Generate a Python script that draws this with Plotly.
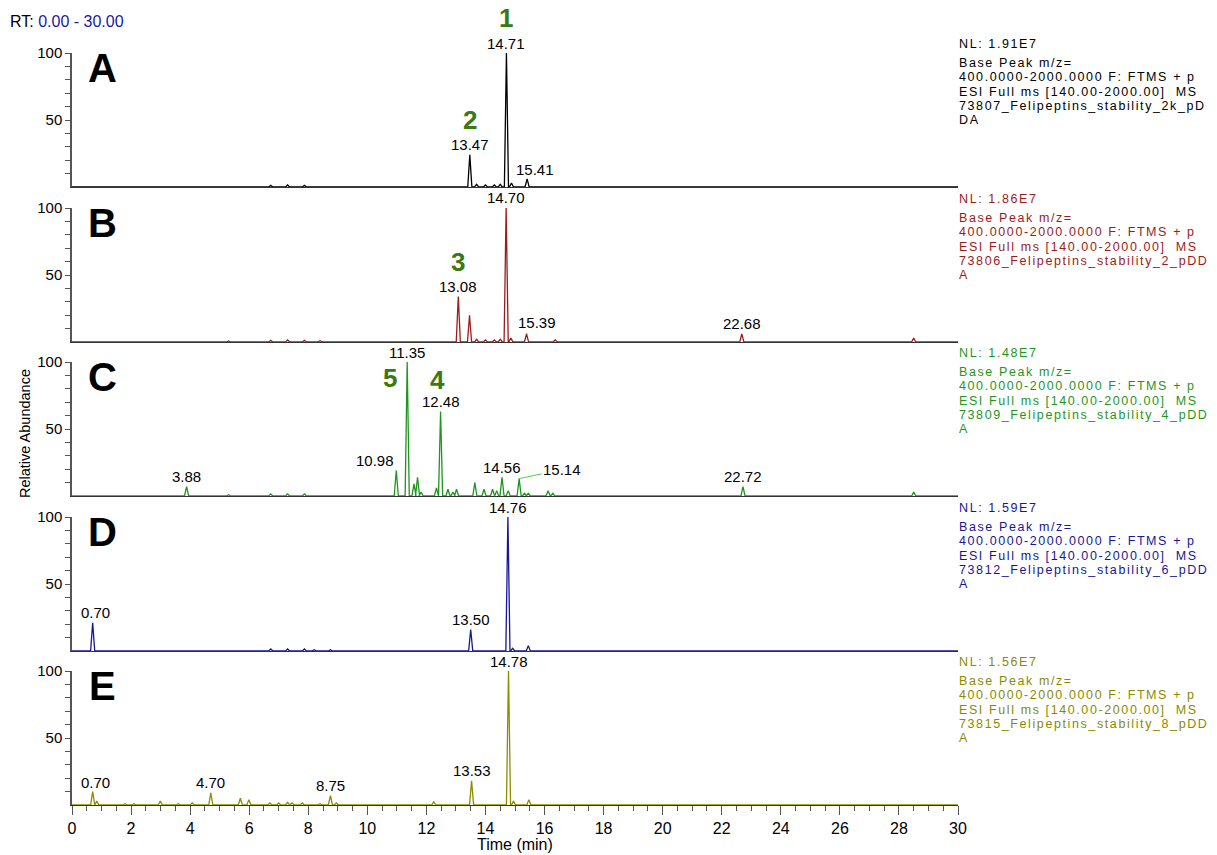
import plotly.graph_objects as go

# ---------------- data ----------------
time_range = [0, 30]

a_rt = [6.73, 7.30, 7.87, 13.47, 13.70, 14.00, 14.30, 14.50, 14.71, 14.88, 15.41]
a_int = [1.2, 1.5, 1.2, 24, 2, 1.5, 1.5, 2, 100, 3, 6]

b_rt = [5.30, 6.73, 7.30, 7.87, 8.40, 13.08, 13.46, 13.70, 14.00, 14.30, 14.50, 14.70, 14.86, 15.39, 16.36, 22.68, 28.50]
b_int = [0.8, 1.2, 1.5, 1.2, 1, 34, 20, 2, 1.5, 1.5, 2, 100, 3, 6, 1.5, 6, 3]

c_rt = [3.88, 5.30, 6.73, 7.30, 7.87, 10.98, 11.35, 11.58, 11.70, 11.82, 12.34, 12.48, 12.73, 12.90, 13.02,
        13.64, 13.95, 14.24, 14.38, 14.56, 14.77, 15.14, 15.32, 15.45, 16.12, 16.28, 22.72, 28.50]
c_int = [7, 1, 1.5, 1.5, 1.5, 19, 100, 9, 14, 3, 6, 63, 5, 3, 5,
         10, 5, 5, 4, 14, 4, 13, 2, 2, 4, 2, 7, 3]

d_rt = [0.70, 6.73, 7.30, 7.87, 8.20, 8.75, 13.50, 14.76, 14.92, 15.45]
d_int = [21, 1.5, 1.5, 1.5, 1, 1, 16, 100, 2, 4]

e_rt = [0.70, 0.84, 1.80, 2.10, 2.99, 3.60, 4.07, 4.70, 5.70, 5.99, 6.70, 7.00, 7.30, 7.45, 7.80, 8.40,
        8.75, 8.95, 12.25, 13.53, 14.78, 14.95, 15.47]
e_int = [10, 3, 1, 1, 3, 1, 1.5, 9, 5, 4, 1.5, 1.5, 2, 1.5, 1.5, 1,
         7, 1.5, 2.5, 18, 100, 3, 4]

panel_letters = ["A", "B", "C", "D", "E"]
nl_values = ["1.91E7", "1.86E7", "1.48E7", "1.59E7", "1.56E7"]
file_names = ["73807_Felipeptins_stability_2k_pD", "73806_Felipeptins_stability_2_pDD",
              "73809_Felipeptins_stability_4_pDD", "73812_Felipeptins_stability_6_pDD",
              "73815_Felipeptins_stability_8_pDD"]
file_tails = ["DA", "A", "A", "A", "A"]

# labelled peaks (retention time, relative abundance)
a_labels = [(14.71, 100), (13.47, 24), (15.41, 6)]
b_labels = [(14.70, 100), (13.08, 34), (15.39, 6), (22.68, 6)]
c_labels = [(11.35, 100), (12.48, 63), (3.88, 7), (10.98, 19), (14.56, 14), (15.14, 13), (22.72, 7)]
d_labels = [(14.76, 100), (0.70, 21), (13.50, 16)]
e_labels = [(14.78, 100), (0.70, 10), (4.70, 9), (8.75, 7), (13.53, 18)]

# compound numbers: (number, panel index, rt, abundance)
compounds = [("1", 0, 14.71, 100), ("2", 0, 13.47, 24), ("3", 1, 13.08, 34),
             ("4", 2, 12.48, 63), ("5", 2, 11.35, 100)]

# ---------------- styling ----------------
FONT = "Arial, Liberation Sans, sans-serif"
colors = ["#000000", "#9e1b1b", "#1e961e", "#16169a", "#8c8c00"]
text_colors = ["#000000", "#9b1b1b", "#1e961e", "#16169a", "#8a8a00"]
green_num = "#3b7a12"
leader = "#55cc55"

W, H = 1217, 855
PL, PR, PT, PB = 72, 958, 53, 805   # plot area in pixels
PW = PR - PL
PH = PB - PT
L, T = PL, PT
R = W - PR
B = H - PB
panel_tops = [53, 208, 362, 517, 671]
panel_h = 134

def px(xp, yp):
    return (xp - PL) / PW, (PB - yp) / PH

# label offsets (pixels) for labels with leader lines
leader_offsets = {(0, 15.41): (8, -9), (1, 15.39): (10, -11), (2, 10.98): (-21, -10),
                  (2, 15.14): (43, -9), (3, 0.70): (3, -10), (4, 0.70): (3, -9)}
compound_offsets = {"1": (0, -35), "2": (0, -35), "3": (0, -34), "4": (-3, -32), "5": (-17, 16)}

all_rt = [a_rt, b_rt, c_rt, d_rt, e_rt]
all_int = [a_int, b_int, c_int, d_int, e_int]
all_labels = [a_labels, b_labels, c_labels, d_labels, e_labels]

HALF_W = 0.07

def chromatogram(rts, ints):
    xs, ys = [time_range[0]], [0]
    for rt, h in sorted(zip(rts, ints)):
        xs += [rt - HALF_W, rt, rt + HALF_W]
        ys += [0, h, 0]
    xs.append(time_range[1]); ys.append(0)
    return xs, ys

fig = go.Figure()
annotations = []

for i in range(5):
    xa = "x" if i == 0 else f"x{i+1}"
    ya = "y" if i == 0 else f"y{i+1}"
    xs, ys = chromatogram(all_rt[i], all_int[i])
    fig.add_trace(go.Scatter(x=xs, y=ys, mode="lines", xaxis=xa, yaxis=ya,
                             line=dict(color=colors[i], width=1.3), hoverinfo="skip"))
    top = panel_tops[i]
    d0 = (PB - (top + panel_h)) / PH
    d1 = (PB - top) / PH
    ykey = "yaxis" if i == 0 else f"yaxis{i+1}"
    xkey = "xaxis" if i == 0 else f"xaxis{i+1}"
    fig.layout[ykey] = dict(domain=[max(d0, 0), min(d1, 1)], range=[0, 100], anchor=xa,
                            tickvals=[10, 20, 30, 40, 50, 60, 70, 80, 90, 100],
                            ticktext=["", "", "", "", "50", "", "", "", "", "100"],
                            ticks="outside", ticklen=5, tickwidth=1, tickcolor="#555",
                            showline=True, linecolor="#555", linewidth=1.5,
                            showgrid=False, zeroline=False, automargin=False,
                            tickfont=dict(family=FONT, size=15, color="#000"))
    xdict = dict(domain=[0, 1], range=time_range, anchor=ya, showgrid=False, zeroline=False,
                 showline=True, linecolor="#333", linewidth=1, automargin=False)
    if i < 4:
        xdict.update(showticklabels=False, ticks="", matches="x5")
    else:
        xdict.update(tickmode="linear", tick0=0, dtick=2, ticks="outside", ticklen=9,
                     tickwidth=1.2, tickcolor="#555",
                     minor=dict(dtick=0.5, ticks="outside", ticklen=5, tickcolor="#555", tickwidth=1),
                     tickfont=dict(family=FONT, size=16, color="#000"))
    fig.layout[xkey] = xdict

    # peak labels
    for rt, h in all_labels[i]:
        off = leader_offsets.get((i, rt))
        if off:
            annotations.append(dict(x=rt, y=h, xref=xa, yref=ya, text=f"{rt:.2f}",
                                    showarrow=True, arrowhead=0, arrowwidth=1, arrowcolor=leader,
                                    ax=off[0], ay=off[1], standoff=0,
                                    font=dict(family=FONT, size=15, color="#000")))
        else:
            annotations.append(dict(x=rt, y=h, xref=xa, yref=ya, text=f"{rt:.2f}",
                                    showarrow=False, yanchor="middle", yshift=10,
                                    font=dict(family=FONT, size=15, color="#000")))

    # panel letter
    lx, ly = px(102, top + 15)
    annotations.append(dict(x=lx, y=ly, xref="paper", yref="paper", text=f"<b>{panel_letters[i]}</b>",
                            showarrow=False, xanchor="center", yanchor="middle",
                            font=dict(family=FONT, size=40, color="#000")))

    # right-hand info text
    lines = [f"NL: {nl_values[i]}", "Base Peak m/z=", "400.0000-2000.0000 F: FTMS + p",
             "ESI Full ms [140.00-2000.00]  MS", file_names[i], file_tails[i]]
    ys_px = [top - 9, top + 10, top + 24, top + 39, top + 53, top + 67]
    for ln, yp in zip(lines, ys_px):
        tx, ty = px(957, yp)
        annotations.append(dict(x=tx, y=ty, xref="paper", yref="paper",
                                text="<span style='letter-spacing:1.6px'>" + ln.replace("  ", "&nbsp; ") + "</span>",
                                showarrow=False, xanchor="left", yanchor="middle",
                                font=dict(family=FONT, size=12.5, color=text_colors[i])))

# compound numbers
for num, pi, rt, h in compounds:
    xa = "x" if pi == 0 else f"x{pi+1}"
    ya = "y" if pi == 0 else f"y{pi+1}"
    dx, dy = compound_offsets[num]
    annotations.append(dict(x=rt, y=h, xref=xa, yref=ya, text=f"<b>{num}</b>", showarrow=False,
                            xanchor="center", yanchor="middle", xshift=dx, yshift=-dy,
                            font=dict(family=FONT, size=26, color=green_num)))

# RT header
rx, ry = px(8, 22)
annotations.append(dict(x=rx, y=ry, xref="paper", yref="paper",
                        text="RT: <span style='color:#1a1aa0'>0.00 - 30.00</span>",
                        showarrow=False, xanchor="left", yanchor="middle",
                        font=dict(family=FONT, size=16, color="#000")))
# y title
yx, yy = px(25, 434)
annotations.append(dict(x=yx, y=yy, xref="paper", yref="paper", text="Relative Abundance",
                        textangle=-90, showarrow=False, xanchor="center", yanchor="middle",
                        font=dict(family=FONT, size=14.5, color="#000")))
# x title
annotations.append(dict(x=15, y=px(0, 845)[1], xref="x5", yref="paper", text="Time (min)",
                        showarrow=False, xanchor="center", yanchor="middle",
                        font=dict(family=FONT, size=16, color="#000")))

fig.update_layout(width=W, height=H, margin=dict(l=L, r=R, t=T, b=B),
                  plot_bgcolor="white", paper_bgcolor="white", showlegend=False,
                  annotations=annotations)

fig.write_html("out.html", config={"displayModeBar": False},
               post_script="document.body.style.margin='0';document.body.style.overflow='hidden';")
